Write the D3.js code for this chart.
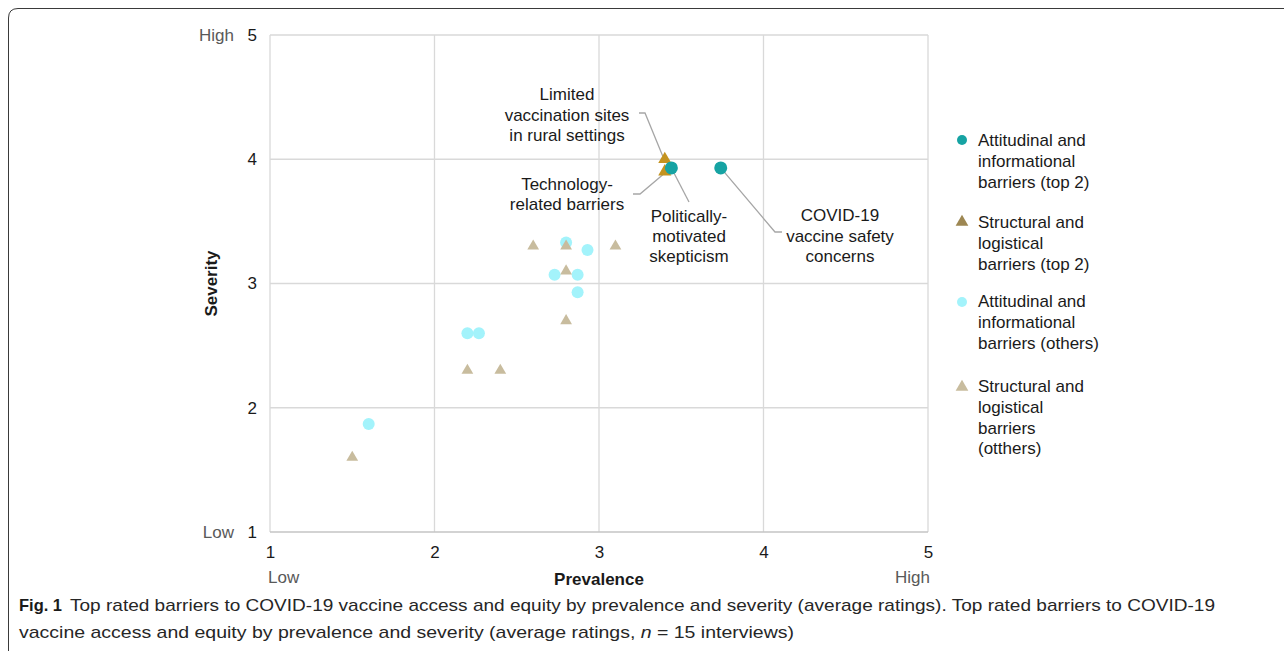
<!DOCTYPE html>
<html>
<head>
<meta charset="utf-8">
<script src="https://cdn.jsdelivr.net/npm/d3@7"></script>
<style>
  html, body { margin: 0; padding: 0; background: #fff; }
  svg { display: block; }
  text { font-family: "Liberation Sans", Arial, sans-serif; }
</style>
</head>
<body>
<svg id="chart" width="1284" height="651"></svg>
<script>
// ---------------- data ----------------
const tickValues = [1, 2, 3, 4, 5];
const xEndLabels = ["Low", "High"];
const yEndLabels = ["Low", "High"];
const xTitle = "Prevalence";
const yTitle = "Severity";

// Attitudinal and informational barriers (top 2)
const topAttX = [3.44, 3.74];
const topAttY = [3.93, 3.93];
const topAttNames = ["Politically-motivated skepticism", "COVID-19 vaccine safety concerns"];

// Structural and logistical barriers (top 2)
const topStructX = [3.40, 3.40];
const topStructY = [4.00, 3.90];
const topStructNames = ["Limited vaccination sites in rural settings", "Technology-related barriers"];

// Attitudinal and informational barriers (others)
const otherAttX = [2.80, 2.93, 2.73, 2.87, 2.87, 2.20, 2.27, 1.60];
const otherAttY = [3.33, 3.27, 3.07, 3.07, 2.93, 2.60, 2.60, 1.87];

// Structural and logistical barriers (others)
const otherStructX = [2.60, 2.80, 3.10, 2.80, 2.80, 2.20, 2.40, 1.50];
const otherStructY = [3.30, 3.30, 3.30, 3.10, 2.70, 2.30, 2.30, 1.60];

const legendLabels = [
  ["Attitudinal and", "informational", "barriers (top 2)"],
  ["Structural and", "logistical", "barriers (top 2)"],
  ["Attitudinal and", "informational", "barriers (others)"],
  ["Structural and", "logistical", "barriers", "(otthers)"]
];

const captionBold = "Fig. 1";
const captionLine1 = "Top rated barriers to COVID-19 vaccine access and equity by prevalence and severity (average ratings). Top rated barriers to COVID-19";
const captionLine2a = "vaccine access and equity by prevalence and severity (average ratings, ";
const captionLine2b = "n";
const captionLine2c = " = 15 interviews)";

// ---------------- styles ----------------
const C = {
  teal: "#16a3a3",
  gold: "#c4931f",
  goldLegend: "#9d8752",
  cyan: "#a3f3fb",
  beige: "#c8bc9e",
  grid: "#d9d9d9",
  leader: "#a6a6a6"
};

const svg = d3.select("#chart");
const x = d3.scaleLinear().domain([1, 5]).range([270, 928]);
const y = d3.scaleLinear().domain([1, 5]).range([532, 35]);

// outer frame (rounded, open to the right/bottom)
svg.append("path")
  .attr("d", "M8.5,651 L8.5,18 Q8.5,8.5 18,8.5 L1284,8.5")
  .attr("fill", "none").attr("stroke", "#3a3a3a").attr("stroke-width", 1);

// grid
const g = svg.append("g");
g.selectAll(".vg").data(tickValues).join("line")
  .attr("x1", d => x(d)).attr("x2", d => x(d))
  .attr("y1", y(5)).attr("y2", y(1))
  .attr("stroke", C.grid).attr("stroke-width", 1.3);
g.selectAll(".hg").data(tickValues).join("line")
  .attr("x1", x(1)).attr("x2", x(5))
  .attr("y1", d => y(d)).attr("y2", d => y(d))
  .attr("stroke", d => d === 1 ? "#c4c4c4" : C.grid).attr("stroke-width", 1.3);

// axes (D3 axes, with domain/ticks hidden; labels only)
const xAxis = svg.append("g").attr("transform", `translate(0,${y(1)})`)
  .call(d3.axisBottom(x).tickValues(tickValues).tickSize(0).tickPadding(14).tickFormat(d3.format("d")));
xAxis.select(".domain").remove();
xAxis.selectAll("text").attr("font-size", 17).attr("fill", "#1a1a1a")
  .attr("font-family", "Liberation Sans, Arial, sans-serif");

const yAxis = svg.append("g").attr("transform", `translate(${x(1)},0)`)
  .call(d3.axisLeft(y).tickValues(tickValues).tickSize(0).tickPadding(13).tickFormat(d3.format("d")));
yAxis.select(".domain").remove();
yAxis.selectAll("text").attr("font-size", 17).attr("fill", "#1a1a1a")
  .attr("font-family", "Liberation Sans, Arial, sans-serif");

// end labels
svg.append("text").attr("x", 234).attr("y", y(5) + 6).attr("text-anchor", "end")
  .attr("font-size", 17).attr("fill", "#595959").text(yEndLabels[1]);
svg.append("text").attr("x", 234).attr("y", y(1) + 6).attr("text-anchor", "end")
  .attr("font-size", 17).attr("fill", "#595959").text(yEndLabels[0]);
svg.append("text").attr("x", x(1) - 2).attr("y", 583).attr("text-anchor", "start")
  .attr("font-size", 17).attr("fill", "#595959").text(xEndLabels[0]);
svg.append("text").attr("x", x(5) + 2).attr("y", 583).attr("text-anchor", "end")
  .attr("font-size", 17).attr("fill", "#595959").text(xEndLabels[1]);

// titles
svg.append("text").attr("x", (x(1) + x(5)) / 2).attr("y", 585).attr("text-anchor", "middle")
  .attr("font-size", 17).attr("font-weight", "bold").attr("fill", "#1a1a1a").text(xTitle);
svg.append("text")
  .attr("transform", `translate(217,${(y(1) + y(5)) / 2}) rotate(-90)`)
  .attr("text-anchor", "middle")
  .attr("font-size", 17).attr("font-weight", "bold").attr("fill", "#1a1a1a").text(yTitle);

// ---------------- leader lines ----------------
const leaders = svg.append("g").attr("fill", "none").attr("stroke", C.leader).attr("stroke-width", 1.3);
leaders.append("polyline").attr("points",
  [[639, 113], [645, 113], [x(topStructX[0]) - 2, y(topStructY[0]) - 3]].map(p => p.join(",")).join(" "));
leaders.append("polyline").attr("points",
  [[633, 194], [640, 194], [x(topStructX[1]) - 2, y(topStructY[1]) + 3]].map(p => p.join(",")).join(" "));
leaders.append("polyline").attr("points",
  [[689, 202], [x(topAttX[0]), y(topAttY[0])]].map(p => p.join(",")).join(" "));
leaders.append("polyline").attr("points",
  [[x(topAttX[1]), y(topAttY[1])], [775, 232], [782, 232]].map(p => p.join(",")).join(" "));

// ---------------- marks ----------------
const tri = d3.symbol().type(d3.symbolTriangle);

svg.append("g").selectAll("circle").data(d3.range(otherAttX.length)).join("circle")
  .attr("cx", i => x(otherAttX[i])).attr("cy", i => y(otherAttY[i]))
  .attr("r", 6).attr("fill", C.cyan);

svg.append("g").selectAll("path").data(d3.range(otherStructX.length)).join("path")
  .attr("transform", i => `translate(${x(otherStructX[i])},${y(otherStructY[i])})`)
  .attr("d", tri.size(60)()).attr("fill", C.beige);

svg.append("g").selectAll("path").data(d3.range(topStructX.length)).join("path")
  .attr("transform", i => `translate(${x(topStructX[i])},${y(topStructY[i])})`)
  .attr("d", tri.size(75)()).attr("fill", C.gold);

svg.append("g").selectAll("circle").data(d3.range(topAttX.length)).join("circle")
  .attr("cx", i => x(topAttX[i])).attr("cy", i => y(topAttY[i]))
  .attr("r", 6.5).attr("fill", C.teal);

// ---------------- annotation texts ----------------
function block(lines, cx, baseY, anchor, lh) {
  const t = svg.append("text").attr("font-size", 17).attr("fill", "#1a1a1a").attr("text-anchor", anchor);
  lines.forEach((l, i) => t.append("tspan").attr("x", cx).attr("y", baseY + i * lh).text(l));
}
block(["Limited", "vaccination sites", "in rural settings"], 567, 100, "middle", 20.5);
block(["Technology-", "related barriers"], 567, 190, "middle", 20);
block(["Politically-", "motivated", "skepticism"], 689, 222, "middle", 20);
block(["COVID-19", "vaccine safety", "concerns"], 840, 221, "middle", 20.5);

// ---------------- legend ----------------
const legendMarkerY = [140, 222, 302, 387];
const legendTextY = [140, 222, 301, 386];
const lg = svg.append("g");
lg.append("circle").attr("cx", 962).attr("cy", legendMarkerY[0]).attr("r", 5).attr("fill", C.teal);
lg.append("path").attr("transform", `translate(962,${legendMarkerY[1]})`).attr("d", tri.size(70)()).attr("fill", C.goldLegend);
lg.append("circle").attr("cx", 962).attr("cy", legendMarkerY[2]).attr("r", 5).attr("fill", C.cyan);
lg.append("path").attr("transform", `translate(962,${legendMarkerY[3]})`).attr("d", tri.size(70)()).attr("fill", C.beige);
legendLabels.forEach((lines, k) => {
  const t = lg.append("text").attr("font-size", 17).attr("fill", "#1a1a1a");
  lines.forEach((l, i) => t.append("tspan").attr("x", 978).attr("y", legendTextY[k] + 6 + i * 20.8).text(l));
});

// ---------------- caption ----------------
const capFont = "'Liberation Sans Narrow', 'DejaVu Sans Condensed', 'Open Sans', sans-serif";
svg.append("text").attr("x", 19).attr("y", 611).attr("font-family", capFont)
  .attr("font-size", 17).attr("font-weight", "bold").attr("fill", "#1a1a1a")
  .attr("textLength", 43).attr("lengthAdjust", "spacingAndGlyphs").text(captionBold);
svg.append("text").attr("x", 70).attr("y", 611).attr("font-family", capFont)
  .attr("font-size", 17).attr("fill", "#262626")
  .attr("textLength", 1145).attr("lengthAdjust", "spacingAndGlyphs").text(captionLine1);
const c2 = svg.append("text").attr("x", 19).attr("y", 638).attr("font-family", capFont)
  .attr("font-size", 17).attr("fill", "#262626")
  .attr("textLength", 775).attr("lengthAdjust", "spacingAndGlyphs");
c2.append("tspan").text(captionLine2a);
c2.append("tspan").attr("font-style", "italic").text(captionLine2b);
c2.append("tspan").text(captionLine2c);
</script>
</body>
</html>
